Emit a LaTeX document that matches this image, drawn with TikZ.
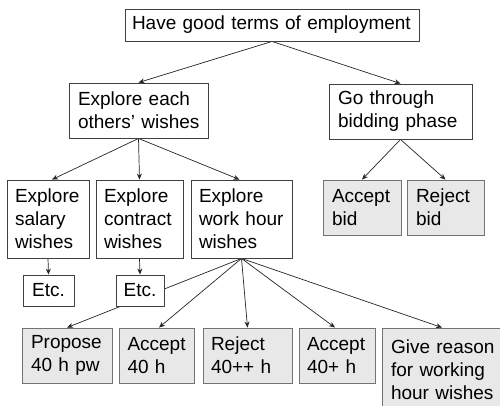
\documentclass[tikz,border=0pt]{standalone}
\usepackage{fontspec}
\setmainfont{Liberation Sans}
\usetikzlibrary{arrows.meta}
\pgfdeclarelayer{paper}
\pgfdeclarelayer{edges}
\pgfsetlayers{paper,edges,main}
\begin{document}
\begin{tikzpicture}[x=1pt,y=1pt,
  every node/.style={font=\fontsize{19}{23}\selectfont, inner ysep=0pt},
  goal/.style={draw=black!75, line width=0.9pt, fill=white, rectangle, align=left, inner xsep=#1},
  goal/.default=8pt,
  act/.style={draw=black!55, line width=0.9pt, fill=black!9, rectangle, align=left, inner xsep=#1},
  act/.default=8pt,
  link/.style={draw=black!85, line width=0.7pt, -{Stealth[length=6pt,width=5pt]}}
]
\useasboundingbox (0,0) rectangle (500,405);
\begin{pgfonlayer}{paper}
\fill[white] (0,0) rectangle (500,405);
\end{pgfonlayer}
\clip (0,0) rectangle (500,405);

% top goal
\node[goal=7pt, text width=280pt, minimum height=32pt] (top) at (272,380) {Have~good~terms~of~employment};

% second level
\node[goal=9pt, text width=121pt, minimum height=55pt] (each) at (138.5,294.5) {Explore~each\\others\char"0027~wishes};
\node[goal=9pt, text width=125pt, minimum height=55pt] (bid) at (400.5,293.5) {Go~through\\bidding~phase};

% third level
\node[goal, text width=66pt, minimum height=78pt] (salary) at (48,186) {Explore\\salary\\wishes};
\node[goal, text width=71pt, minimum height=78pt] (contract) at (139.5,186) {Explore\\contract\\wishes};
\node[goal, text width=85pt, minimum height=78pt] (work) at (241.5,186) {Explore\\work~hour\\wishes};

\node[act=9pt, text width=60pt, minimum height=55pt] (acceptbid) at (362,197.5) {Accept\\bid};
\node[act=9pt, text width=59pt, minimum height=55pt] (rejectbid) at (445.5,197.5) {Reject\\bid};

% etc. placeholders
\node[goal, align=center, minimum width=51pt, minimum height=31pt, inner xsep=0pt] (etcA) at (48.5,114.5) {Etc.};
\node[goal, align=center, minimum width=48pt, minimum height=31pt, inner xsep=0pt] (etcB) at (140,114.5) {Etc.};

% bottom actions
\node[act=9pt, text width=72pt, minimum height=55pt] (propose) at (67,49.5) {Propose\\40~h~pw};
\node[act=8.5pt, text width=58pt, minimum height=55pt] (acc40) at (156.5,49.5) {Accept\\40~h};
\node[act, text width=73pt, minimum height=55pt] (rej40) at (247.5,49.5) {Reject\\40++~h};
\node[act, text width=60pt, minimum height=55pt] (acc40p) at (337,49.5) {Accept\\40+~h};
\node[act=9pt, text width=112pt, minimum height=84pt] (reason) at (447,35) {Give~reason\\for~working\\hour~wishes};

\begin{pgfonlayer}{edges}
\draw[link] (top.south) -- (each.north);
\draw[link] (top.south) -- (bid.north);
\draw[link] (each.south) -- ([xshift=4pt]salary.north);
\draw[link] (each.south) -- (contract.north);
\draw[link] (each.south) -- ([xshift=-2pt]work.north);
\draw[link] (bid.south) -- (acceptbid.north);
\draw[link] (bid.south) -- (rejectbid.north);
\draw[link] (salary.south) -- (etcA.north);
\draw[link] (contract.south) -- (etcB.north);
\draw[link] (work.south) -- (propose.north);
\draw[link] (work.south) -- ([xshift=2.5pt]acc40.north);
\draw[link] (work.south) -- (rej40.north);
\draw[link] (work.south) -- ([xshift=-2pt]acc40p.north);
\draw[link] (work.south) -- ([xshift=-5pt]reason.north);
\end{pgfonlayer}
\end{tikzpicture}
\end{document}
